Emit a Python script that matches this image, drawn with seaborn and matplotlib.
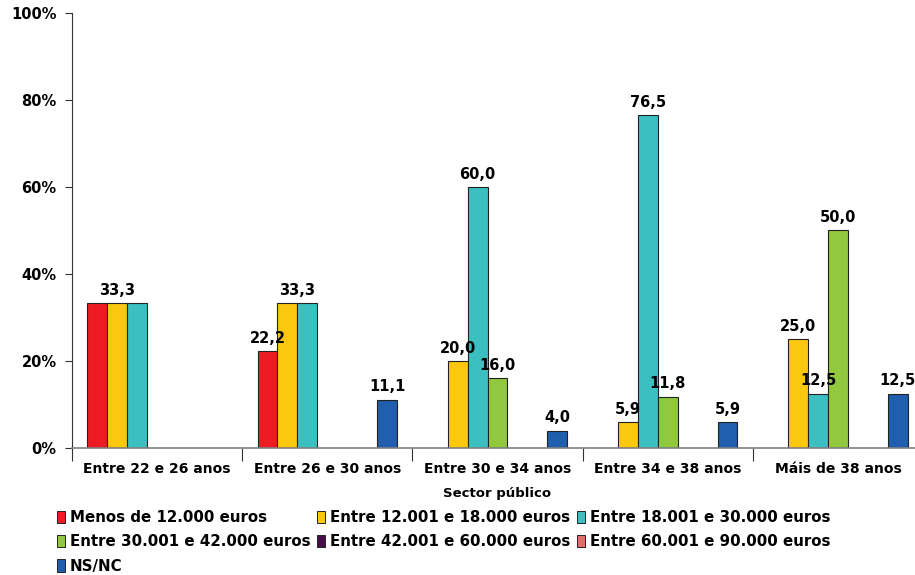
import pandas as pd
import numpy as np
import matplotlib.pyplot as plt
import seaborn as sns
from matplotlib.patches import Patch

# data
age_groups = ['Entre 22 e 26 anos', 'Entre 26 e 30 anos', 'Entre 30 e 34 anos',
              'Entre 34 e 38 anos', 'Máis de 38 anos']
income_levels = ['Menos de 12.000 euros', 'Entre 12.001 e 18.000 euros',
                 'Entre 18.001 e 30.000 euros', 'Entre 30.001 e 42.000 euros',
                 'Entre 42.001 e 60.000 euros', 'Entre 60.001 e 90.000 euros', 'NS/NC']
menos_12000 = [33.3, 22.2, None, None, None]
de_12001_18000 = [33.3, 33.3, 20.0, 5.9, 25.0]
de_18001_30000 = [33.3, 33.3, 60.0, 76.5, 12.5]
de_30001_42000 = [None, None, 16.0, 11.8, 50.0]
de_42001_60000 = [None, None, None, None, None]
de_60001_90000 = [None, None, None, None, None]
ns_nc = [None, 11.1, 4.0, 5.9, 12.5]

colors = ['#ED1C24', '#FCC70F', '#3BBFC1', '#92C83E', '#4B0C4B', '#E46C6C', '#1F5FAD']

series = [menos_12000, de_12001_18000, de_18001_30000, de_30001_42000,
          de_42001_60000, de_60001_90000, ns_nc]
rows = []
for level, vals in zip(income_levels, series):
    for grp, v in zip(age_groups, vals):
        if v is not None:
            rows.append({'grupo': grp, 'rendimento': level, 'pct': v})
df = pd.DataFrame(rows)

sns.set_style('white')
plt.rcParams['font.family'] = ['DejaVu Sans']
plt.rcParams['font.weight'] = 'bold'
plt.rcParams['text.color'] = 'black'
plt.rcParams['xtick.color'] = 'black'
plt.rcParams['ytick.color'] = 'black'
plt.rcParams['axes.labelcolor'] = 'black'

fig = plt.figure(figsize=(9.15, 5.75), dpi=100)
ax = fig.add_axes([72/915, 1-448/575, (923-72)/915, (448-13)/575])

width = 0.82
sns.barplot(data=df, x='grupo', y='pct', hue='rendimento', order=age_groups,
            hue_order=income_levels, palette=colors, width=width, dodge=True,
            edgecolor='#222222', linewidth=0.8, ax=ax, legend=False, saturation=1)

# data labels; neighbouring bars with equal values share one label at their centre
slot = width / len(income_levels)
for gi, grp in enumerate(age_groups):
    runs = []
    for li, vals in enumerate(series):
        v = vals[gi]
        if v is None:
            continue
        x = gi - width/2 + slot*(li + 0.5)
        if runs and runs[-1][0] == v and runs[-1][2] == li - 1:
            runs[-1][1].append(x)
            runs[-1][2] = li
        else:
            runs.append([v, [x], li])
    for v, xs, _ in runs:
        ax.text(np.mean(xs), v + 1.2, '{:.1f}'.format(v).replace('.', ','),
                ha='center', va='bottom', fontsize=10.5, fontweight='bold', color='black')

ax.set_ylim(0, 100)
ax.set_xlim(-0.5, 4.5)
ax.set_yticks(range(0, 101, 20))
ax.set_yticklabels(['{}%'.format(t) for t in range(0, 101, 20)], fontsize=10.5, fontweight='bold')
ax.tick_params(axis='y', length=5, width=0.8, direction='out', left=True, color='#333333', pad=6)
ax.set_xticks(range(5))
ax.set_xticklabels(age_groups, fontsize=10, fontweight='bold')
ax.tick_params(axis='x', length=0, pad=10)
ax.set_xticks(np.arange(-0.5, 5.0, 1), minor=True)
ax.tick_params(axis='x', which='minor', length=9, width=0.8, color='#333333', bottom=True)
ax.set_ylabel('')
ax.set_xlabel('Sector público', fontsize=9.5, fontweight='bold', labelpad=8)

for s in ['top', 'right']:
    ax.spines[s].set_visible(False)
ax.spines['left'].set_color('#333333')
ax.spines['left'].set_linewidth(0.8)
ax.spines['bottom'].set_color('#808080')
ax.spines['bottom'].set_linewidth(1.2)

# legend, row-major order as in the reference
handles = [Patch(facecolor=c, edgecolor='#222222', linewidth=0.7) for c in colors]
order = [0, 3, 6, 1, 4, 2, 5]
fig.legend([handles[i] for i in order], [income_levels[i] for i in order],
           loc='upper left', bbox_to_anchor=(57/915, 1-510/575), ncol=3, frameon=False,
           fontsize=10.8, handlelength=0.55, handleheight=0.9, handletextpad=0.3,
           columnspacing=0.45, labelspacing=0.62, borderaxespad=0, borderpad=0)

fig.savefig('out.png', dpi=100)
